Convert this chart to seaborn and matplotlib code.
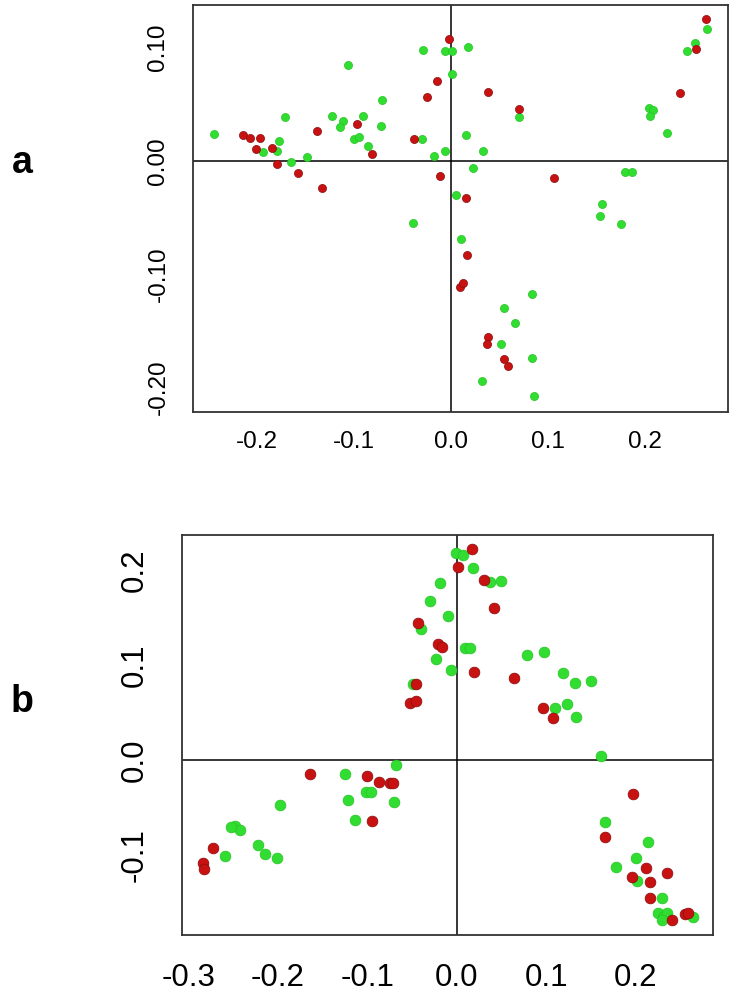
import numpy as np
import pandas as pd
import seaborn as sns
import matplotlib.pyplot as plt

# panel a points
a_green_x = [-0.2435, -0.1708, -0.1766, -0.1931, -0.1794, -0.1646, -0.1485, -0.1056, -0.1221, -0.1108,
             -0.1142, -0.0909, -0.0707, -0.0724, -0.0998, -0.0943, -0.0851, -0.0292, -0.0062, 0.0010,
             0.0007, -0.0302, -0.0175, -0.0062, 0.0051, 0.0178, 0.2630, 0.2510, 0.2431, 0.0703,
             0.2040, 0.2082, 0.2047, 0.2219, 0.0154, 0.0333, 0.0230, 0.1790, 0.1860, 0.1557,
             0.1533, 0.1750, -0.0394, 0.0099, 0.0837, 0.0549, 0.0662, 0.0511, 0.0837, 0.0316, 0.0854]
a_green_y = [0.0238, 0.0386, 0.0174, 0.0077, 0.0091, -0.0011, 0.0033, 0.0847, 0.0397, 0.0356,
             0.0303, 0.0397, 0.0538, 0.0312, 0.0197, 0.0215, 0.0132, 0.0980, 0.0974, 0.0974,
             0.0768, 0.0191, 0.0044, 0.0091, -0.0300, 0.1009, 0.1162, 0.1044, 0.0971, 0.0386,
             0.0470, 0.0450, 0.0397, 0.0250, 0.0227, 0.0091, -0.0064, -0.0100, -0.0094, -0.0380,
             -0.0485, -0.0556, -0.0544, -0.0691, -0.1174, -0.1300, -0.1433, -0.1618, -0.1736, -0.1942, -0.2074]
a_red_x = [-0.0017, -0.0147, -0.0250, -0.2143, -0.2068, -0.1965, -0.2006, -0.1845, -0.1794, -0.1571,
           -0.1330, -0.1382, -0.0964, -0.0816, -0.0381, -0.0113, 0.0377, 0.0703, 0.2620, 0.2517,
           0.2356, 0.1063, 0.0154, 0.0168, 0.0093, 0.0127, 0.0384, 0.0374, 0.0549, 0.0583]
a_red_y = [0.1074, 0.0709, 0.0568, 0.0229, 0.0200, 0.0200, 0.0103, 0.0112, -0.0026, -0.0109,
           -0.0241, 0.0265, 0.0327, 0.0062, 0.0191, -0.0132, 0.0612, 0.0456, 0.1253, 0.0986,
           0.0603, -0.0153, -0.0329, -0.0827, -0.1115, -0.1080, -0.1550, -0.1618, -0.1748, -0.1806]

# panel b points
b_green_x = [-0.0011, 0.0071, -0.0190, -0.0295, -0.0097, -0.0396, -0.0228, -0.0067, 0.0090, 0.0150,
             -0.0490, -0.0676, -0.1243, -0.1011, -0.0960, 0.0183, 0.0377, 0.0500, 0.0791, 0.0974,
             0.1190, 0.1329, 0.1500, 0.1105, 0.1240, 0.1340, 0.1610, -0.1218, -0.0698, -0.1137,
             -0.1972, -0.2480, -0.2420, -0.2520, -0.2224, -0.2147, -0.2012, -0.2591, 0.1657, 0.2142,
             0.2004, 0.1788, 0.2012, 0.2299, 0.2254, 0.2310, 0.2348, 0.2292, 0.2639]
b_green_y = [0.2175, 0.2158, 0.1860, 0.1674, 0.1516, 0.1376, 0.1060, 0.0947, 0.1182, 0.1182,
             0.0800, -0.0053, -0.0151, -0.0333, -0.0333, 0.2024, 0.1877, 0.1888, 0.1105, 0.1140,
             0.0919, 0.0814, 0.0835, 0.0544, 0.0589, 0.0449, 0.0045, -0.0421, -0.0439, -0.0632,
             -0.0474, -0.0695, -0.0737, -0.0709, -0.0895, -0.0989, -0.1035, -0.1007, -0.0649, -0.0860,
             -0.1035, -0.1130, -0.1270, -0.1456, -0.1614, -0.1650, -0.1614, -0.1684, -0.1650]
b_red_x = [0.0015, 0.0176, -0.0433, -0.0210, -0.0160, -0.0452, -0.0519, -0.0452, -0.1635, -0.1000,
           -0.0873, -0.0739, -0.0710, 0.0302, 0.0414, 0.0194, 0.0638, 0.0967, 0.1079, 0.1975,
           -0.0942, -0.2725, -0.2839, -0.2828, 0.1657, 0.2113, 0.1956, 0.2161, 0.2355, 0.2161,
           0.2411, 0.2553, 0.2590]
b_red_y = [0.2035, 0.2218, 0.1445, 0.1221, 0.1193, 0.0800, 0.0604, 0.0621, -0.0151, -0.0165,
           -0.0228, -0.0246, -0.0246, 0.1895, 0.1596, 0.0930, 0.0866, 0.0544, 0.0439, -0.0361,
           -0.0642, -0.0930, -0.1088, -0.1151, -0.0807, -0.1140, -0.1228, -0.1281, -0.1193, -0.1456,
           -0.1684, -0.1621, -0.1614]

a_xticks = [-0.2, -0.1, 0.0, 0.1, 0.2]
a_xlabels = ["-0.2", "-0.1", "0.0", "0.1", "0.2"]
a_yticks = [0.10, 0.05, 0.00, -0.05, -0.10, -0.15, -0.20]
a_ylabels = ["0.10", "", "0.00", "", "-0.10", "", "-0.20"]
b_xticks = [-0.3, -0.2, -0.1, 0.0, 0.1, 0.2]
b_xlabels = ["-0.3", "-0.2", "-0.1", "0.0", "0.1", "0.2"]
b_yticks = [0.2, 0.1, 0.0, -0.1]
b_ylabels = ["0.2", "0.1", "0.0", "-0.1"]

GREEN = "#30dd30"
RED = "#c81212"

sns.set_style("white")
plt.rcParams['font.family'] = ['Liberation Sans', 'DejaVu Sans']
plt.rcParams['text.color'] = 'black'
plt.rcParams['xtick.color'] = 'black'
plt.rcParams['ytick.color'] = 'black'

fig = plt.figure(figsize=(7.39, 10.07), dpi=100)
ax_a = fig.add_axes([0.2612, 0.5909, 0.7239, 0.4041])
ax_b = fig.add_axes([0.2463, 0.0715, 0.7185, 0.3972])


def draw(ax, gx, gy, rx, ry, size):
    g = pd.DataFrame({"x": gx, "y": gy})
    r = pd.DataFrame({"x": rx, "y": ry})
    ax.axhline(0, color="black", lw=1.1, zorder=1)
    ax.axvline(0, color="black", lw=1.1, zorder=1)
    sns.scatterplot(data=g, x="x", y="y", ax=ax, color=GREEN, s=size,
                    edgecolor="#26c426", linewidth=0.5, zorder=3)
    sns.scatterplot(data=r, x="x", y="y", ax=ax, color=RED, s=size,
                    edgecolor="#8a0a0a", linewidth=0.5, zorder=4)
    ax.set_xlabel("")
    ax.set_ylabel("")
    for sp in ax.spines.values():
        sp.set_visible(True)
        sp.set_color("#333333")
        sp.set_linewidth(1.3)


draw(ax_a, a_green_x, a_green_y, a_red_x, a_red_y, 34)
ax_a.set_xlim(-0.2654, 0.285)
ax_a.set_ylim(-0.2215, 0.1377)
ax_a.set_xticks(a_xticks, a_xlabels)
ax_a.set_yticks(a_yticks, a_ylabels)
ax_a.tick_params(axis="both", direction="out", length=7, width=1, color="#333333", labelsize=17.5)
ax_a.tick_params(axis="x", pad=7)
ax_a.tick_params(axis="y", pad=10)
for t in ax_a.get_yticklabels():
    t.set_rotation(90)
    t.set_va("center")

draw(ax_b, b_green_x, b_green_y, b_red_x, b_red_y, 60)
ax_b.set_xlim(-0.307, 0.2867)
ax_b.set_ylim(-0.1842, 0.2368)
ax_b.set_xticks(b_xticks, b_xlabels)
ax_b.set_yticks(b_yticks, b_ylabels)
ax_b.tick_params(axis="both", direction="out", length=9, width=1, color="#333333", labelsize=22.5)
ax_b.tick_params(axis="x", pad=11)
ax_b.tick_params(axis="y", pad=14)
for t in ax_b.get_yticklabels():
    t.set_rotation(90)
    t.set_va("center")

fig.text(22 / 739, 1 - 163 / 1007, "a", fontsize=27, fontweight="bold", ha="center", va="center")
fig.text(22 / 739, 1 - 702 / 1007, "b", fontsize=27, fontweight="bold", ha="center", va="center")

fig.savefig("out.png", dpi=100)
